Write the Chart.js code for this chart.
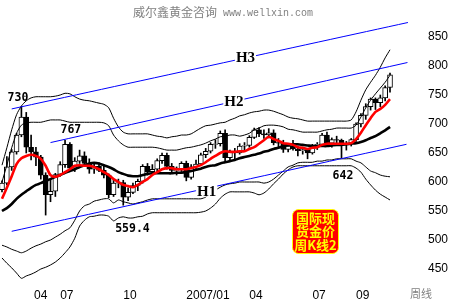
<!DOCTYPE html>
<html>
<head>
<meta charset="utf-8">
<script src="https://cdn.jsdelivr.net/npm/chart.js@4.4.1/dist/chart.umd.min.js"></script>
<style>
  html, body { margin: 0; padding: 0; background: #fff; }
</style>
</head>
<body>
<canvas id="goldChart" width="450" height="300"></canvas>
<script>
// weekly candles, Apr 2006 .. Oct 2007 (index = week number)
const opens  = [587,598,626,652,681,712,660,652,643,612,578,584,613,630,665,624,636,645,632,622,627,620,612,578,598,599,574,582,594,601,627,618,622,637,646,627,620,621,632,608,626,631,647,653,665,666,684,642,651,650,662,663,677,690,683,681,685,668,667,656,662,657,654,656,650,663,665,681,667,673,672,664,667,673,700,715,730,743,737,745,763];
const highs  = [602,644,656,684,730,720,681,660,646,616,605,615,635,672,668,642,655,652,640,632,633,630,614,605,605,603,590,598,605,630,632,630,640,650,650,632,626,635,636,630,638,650,658,668,673,688,690,655,658,666,668,680,693,694,690,692,690,675,672,666,672,662,660,658,665,668,684,686,676,679,674,670,675,702,718,735,745,745,750,766,788];
const lows   = [583,595,620,648,678,650,638,628,605,543,566,575,610,625,618,618,632,628,615,615,618,607,573,575,590,560,568,580,585,598,612,614,618,632,622,617,612,618,602,605,622,628,642,650,658,662,636,636,640,648,655,660,675,678,675,676,664,660,651,652,655,645,648,640,648,656,662,662,660,664,642,655,662,670,695,708,724,725,730,740,755];
const closes = [598,626,652,681,712,660,652,643,612,578,584,613,630,665,624,636,645,632,622,627,620,612,578,598,599,574,582,594,601,627,618,622,637,646,627,620,621,632,608,626,631,647,653,665,666,684,642,651,650,662,663,677,690,683,681,685,668,667,656,662,657,654,656,650,663,665,681,667,673,672,664,667,673,700,715,730,743,737,745,763,785];

// moving averages
const maRed   = [571,590,610,631,641,645,647,645,640,628,612,609,612,617,622,628,629,628,628,626,622,617,612,605,600,595,593,591,595,600,605,612,617,622,624,624,622,622,622,624,626,629,634,640,645,650,653,652,652,653,653,657,660,666,672,678,674,671,667,666,664,660,659,657,659,660,664,666,666,666,666,666,667,674,685,698,710,721,726,733,743];
const maBlack = [550,555,562,571,578,584,590,595,598,602,605,609,612,616,619,622,626,629,632,633,632,629,626,622,617,614,611,610,610,612,614,615,615,615,615,615,616,616,617,619,621,623,626,628,629,632,634,636,638,641,643,645,647,649,652,654,657,659,662,664,665,665,664,663,662,662,662,662,663,664,664,665,666,667,669,672,676,679,684,689,695];

// envelope bands
const bandUpOuter = [629,659,690,716,731,740,745,747,747,747,747,748,750,753,752,747,743,741,740,738,736,734,728,710,695,686,683,683,683,683,683,681,679,678,676,678,679,681,681,683,688,693,697,698,700,702,703,707,710,714,716,719,721,722,724,724,722,719,716,712,710,709,707,705,705,705,705,705,705,705,705,705,707,721,741,759,772,784,798,814,828];
const bandUpInner = [600,629,659,684,698,702,703,703,703,705,707,707,707,705,703,703,703,703,703,703,703,702,697,681,671,664,660,660,660,660,660,660,659,657,655,655,655,657,659,660,662,664,667,671,674,678,679,681,681,679,681,684,690,693,697,698,698,697,695,691,690,688,686,686,686,686,688,690,691,693,693,693,693,698,712,728,741,752,762,772,784];
const bandLowInner = [491,488,484,481,478,481,486,490,493,497,500,505,510,516,521,534,550,559,562,567,569,571,571,564,569,566,564,562,564,566,569,571,571,571,571,571,571,571,571,571,571,571,574,581,586,591,595,597,598,600,600,600,600,600,598,600,605,612,619,626,629,633,634,634,634,636,636,638,638,640,640,640,640,636,633,626,619,616,612,610,609];
const bandLowOuter = [469,460,452,443,434,438,441,445,450,453,457,462,469,478,488,503,524,534,540,541,543,543,541,533,538,540,538,538,540,541,545,547,547,547,547,547,547,547,547,547,547,548,550,555,562,572,579,583,583,583,583,583,581,578,581,588,597,605,614,621,626,628,628,628,628,628,628,628,628,628,628,628,628,624,617,605,595,586,579,574,569];

// channel lines (week, price at both ends)
const h3Weeks = [2.0, 83.7], h3Prices = [726, 875];
const h2Weeks = [10.0, 83.6], h2Prices = [668, 806];
const h1Weeks = [2.0, 83.4], h1Prices = [515, 665];

// axis labels
const xTickWeeks = [6.6, 12, 25, 38, 51, 64, 73];
const xTickText  = ['04', '07', '10', '2007/01', '04', '07', '09'];
const yTicks     = [450, 500, 550, 600, 650, 700, 750, 800, 850];

// price notes
const noteText  = ['730', '767', '559.4', '642'];
const noteWeek  = [3.3, 14.2, 26.9, 70.3];
const notePrice = [745, 689, 519, 610];
const chanText  = ['H3', 'H2', 'H1'];
const chanWeek  = [50.2, 47.8, 42.2];
const chanPrice = [815, 740, 585];

const pts = arr => arr.map((v, i) => ({ x: i, y: v }));
const seg = (xs, ys) => xs.map((v, i) => ({ x: v, y: ys[i] }));

const bodies = opens.map((o, i) => ({ x: i, y: [Math.min(o, closes[i]), Math.max(o, closes[i])] }));
const wicks = lows.map((l, i) => ({ x: i, y: [l, highs[i]] }));
const bodyFill = opens.map((o, i) => closes[i] >= o ? '#ffffff' : '#000000');

const lineDs = (data, color, width, order) => ({
    type: 'line',
    data: data,
    borderColor: color,
    borderWidth: width,
    pointRadius: 0,
    tension: 0.25,
    fill: false,
    order: order
});

const overlay = {
    id: 'overlay',
    afterDatasetsDraw(chart) {
        const { ctx, scales: { x, y } } = chart;
        ctx.save();
        ctx.textAlign = 'center';
        ctx.textBaseline = 'middle';

        // price notes
        ctx.font = "bold 11.5px 'DejaVu Sans Mono'";
        ctx.fillStyle = '#000';
        noteText.forEach((t, i) => {
            ctx.fillText(t, x.getPixelForValue(noteWeek[i]), y.getPixelForValue(notePrice[i]));
        });

        // channel names on white patches
        ctx.font = "bold 15px 'Liberation Serif'";
        chanText.forEach((t, i) => {
            const px = x.getPixelForValue(chanWeek[i]);
            const py = y.getPixelForValue(chanPrice[i]);
            const w = ctx.measureText(t).width;
            ctx.fillStyle = '#fff';
            ctx.fillRect(px - w / 2 - 1, py - 6, w + 2, 12);
            ctx.fillStyle = '#000';
            ctx.fillText(t, px, py + 1);
        });

        // caption box
        ctx.fillStyle = '#ff0000';
        ctx.strokeStyle = '#ffff00';
        ctx.lineWidth = 1;
        ctx.beginPath();
        ctx.roundRect(292.5, 209.5, 46, 44, 6);
        ctx.fill();
        ctx.stroke();
        ctx.fillStyle = '#ffff00';
        ctx.font = "bold 13px 'Noto Sans CJK SC'";
        ['国际现', '货金价', '周K线2'].forEach((t, i) => {
            ctx.fillText(t, 315.5, 218 + i * 13.5, 44);
        });

        // header and period tag
        ctx.fillStyle = '#808080';
        ctx.textAlign = 'left';
        ctx.font = "12px 'Noto Sans CJK SC'";
        ctx.fillText('威尔鑫黄金咨询', 133, 12);
        ctx.font = "10px 'Liberation Mono'";
        ctx.fillText('www.wellxin.com', 223, 13);
        ctx.font = "11px 'Noto Sans CJK SC'";
        ctx.fillText('周线', 410, 294);
        ctx.restore();
    }
};

const ctx = document.getElementById('goldChart').getContext('2d');

new Chart(ctx, {
    type: 'bar',
    data: {
        datasets: [
            lineDs(pts(maRed), '#ff0000', 2.6, 0),
            lineDs(pts(maBlack), '#000000', 2.6, 1),
            lineDs(seg(h3Weeks, h3Prices), '#0000ff', 1, 2),
            lineDs(seg(h2Weeks, h2Prices), '#0000ff', 1, 2),
            lineDs(seg(h1Weeks, h1Prices), '#0000ff', 1, 2),
            lineDs(pts(bandUpOuter), '#000000', 1, 3),
            lineDs(pts(bandUpInner), '#000000', 1, 3),
            lineDs(pts(bandLowInner), '#000000', 1, 3),
            lineDs(pts(bandLowOuter), '#000000', 1, 3),
            {
                data: bodies,
                backgroundColor: bodyFill,
                borderColor: '#000',
                borderWidth: 1,
                borderSkipped: false,
                barThickness: 5,
                grouped: false,
                order: 4
            },
            {
                data: wicks,
                backgroundColor: '#000',
                barThickness: 1,
                grouped: false,
                order: 5
            }
        ]
    },
    options: {
        responsive: false,
        animation: false,
        devicePixelRatio: 1,
        layout: { padding: 0 },
        plugins: {
            legend: { display: false },
            tooltip: { enabled: false }
        },
        scales: {
            x: {
                type: 'linear',
                offset: false,
                min: -0.4124,
                max: 83.71,
                grid: { display: false, drawTicks: false },
                border: { display: false },
                ticks: {
                    align: 'start',
                    padding: 6,
                    autoSkip: false,
                    maxRotation: 0,
                    color: '#000',
                    font: { family: 'Liberation Sans', size: 12 },
                    callback: (v, i) => xTickText[i]
                },
                afterBuildTicks: s => { s.ticks = xTickWeeks.map(v => ({ value: v })); },
                afterFit: s => { s.height = 18; s.paddingLeft = 0; s.paddingRight = 0; }
            },
            y: {
                type: 'linear',
                position: 'right',
                min: 427.6,
                max: 913.8,
                grid: { display: false, drawTicks: false },
                border: { display: false },
                ticks: {
                    padding: 20,
                    color: '#000',
                    font: { family: 'Liberation Sans', size: 12 }
                },
                afterBuildTicks: s => { s.ticks = yTicks.map(v => ({ value: v })); },
                afterFit: s => { s.width = 42; s.paddingTop = 0; s.paddingBottom = 0; }
            }
        }
    },
    plugins: [overlay]
});
</script>
</body>
</html>
